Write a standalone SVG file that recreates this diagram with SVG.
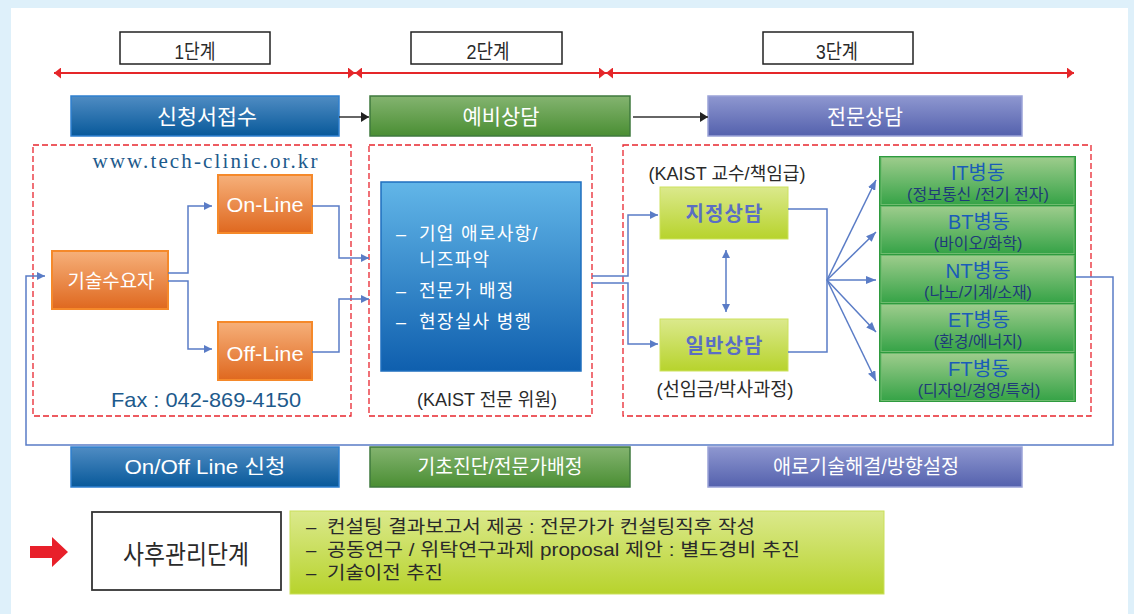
<svg xmlns="http://www.w3.org/2000/svg" width="1134" height="614" viewBox="0 0 1134 614">
<style>
.k{font-family:"Liberation Sans","Noto Sans CJK KR",sans-serif}
.w{fill:#ffffff}
.dk{fill:#2a2a2a}
.dash{fill:none;stroke:#e8262e;stroke-width:1.3;stroke-dasharray:6,3}
.con{fill:none;stroke:#5a7cc6;stroke-width:1.5}
.red{fill:none;stroke:#e52629;stroke-width:2}
.blk{fill:none;stroke:#333333;stroke-width:1.5}
.ttl{fill:#1a5cb8;font-size:20px}
.sub{fill:#1e3b78;font-size:16px}
</style>
<defs>
<linearGradient id="gBlue" x1="0" y1="0" x2="0" y2="1"><stop offset="0" stop-color="#4f8cc3"/><stop offset="1" stop-color="#08599a"/></linearGradient>
<linearGradient id="gGreen" x1="0" y1="0" x2="0" y2="1"><stop offset="0" stop-color="#84b470"/><stop offset="1" stop-color="#4a8e33"/></linearGradient>
<linearGradient id="gPurple" x1="0" y1="0" x2="0" y2="1"><stop offset="0" stop-color="#8e97d0"/><stop offset="1" stop-color="#5461ad"/></linearGradient>
<linearGradient id="gSky" x1="0" y1="0" x2="0" y2="1"><stop offset="0" stop-color="#62b6e8"/><stop offset="1" stop-color="#0f5fae"/></linearGradient>
<linearGradient id="gOrange" x1="0" y1="0" x2="0" y2="1"><stop offset="0" stop-color="#f6b07a"/><stop offset="1" stop-color="#df681f"/></linearGradient>
<linearGradient id="gLime" x1="0" y1="0" x2="0" y2="1"><stop offset="0" stop-color="#dbe98c"/><stop offset="1" stop-color="#b7d32c"/></linearGradient>
<linearGradient id="gCell" x1="0" y1="0" x2="0" y2="1"><stop offset="0" stop-color="#9dcc8c"/><stop offset="1" stop-color="#36a347"/></linearGradient>
<marker id="aBlue" viewBox="0 0 8 8" refX="8" refY="4" markerWidth="8" markerHeight="8" markerUnits="userSpaceOnUse" orient="auto-start-reverse"><path d="M0,0 L8,4 L0,8 Z" fill="#5a7cc6"/></marker>
<marker id="aFan" viewBox="0 0 10 8" refX="10" refY="4" markerWidth="10" markerHeight="8" markerUnits="userSpaceOnUse" orient="auto"><path d="M0,0 L10,4 L0,8 Z" fill="#5a7cc6"/></marker>
<marker id="aBlack" viewBox="0 0 8 10" refX="8" refY="5" markerWidth="8" markerHeight="10" markerUnits="userSpaceOnUse" orient="auto"><path d="M0,0 L8,5 L0,10 Z" fill="#222222"/></marker>
<marker id="aRed" viewBox="0 0 7 11" refX="7" refY="5.5" markerWidth="7" markerHeight="11" markerUnits="userSpaceOnUse" orient="auto-start-reverse"><path d="M0,0 L7,5.5 L0,11 Z" fill="#e52629"/></marker>
</defs>

<rect x="0" y="0" width="1134" height="614" fill="#def0fa"/>
<rect x="11" y="8" width="1117" height="606" fill="#ffffff"/>

<g id="stage1"><rect x="120" y="32" width="150" height="32" fill="#fff" stroke="#222" stroke-width="1.5"/><text class="k dk" x="195" y="59" font-size="20" text-anchor="middle" textLength="41" lengthAdjust="spacingAndGlyphs">1단계</text></g>
<g id="stage2"><rect x="411" y="32" width="151" height="32" fill="#fff" stroke="#222" stroke-width="1.5"/><text class="k dk" x="488" y="59" font-size="20" text-anchor="middle" textLength="43" lengthAdjust="spacingAndGlyphs">2단계</text></g>
<g id="stage3"><rect x="763" y="32" width="150" height="32" fill="#fff" stroke="#222" stroke-width="1.5"/><text class="k dk" x="837" y="59" font-size="20" text-anchor="middle" textLength="42" lengthAdjust="spacingAndGlyphs">3단계</text></g>

<g id="h1"><rect x="71" y="96" width="268" height="40" fill="url(#gBlue)" stroke="#2f80d0" stroke-width="1.5"/><text class="k w" x="207" y="124" font-size="21" text-anchor="middle" textLength="100" lengthAdjust="spacingAndGlyphs">신청서접수</text></g>
<g id="h2"><rect x="370" y="96" width="260" height="40" fill="url(#gGreen)" stroke="#3f7a3e" stroke-width="1.5"/><text class="k w" x="501" y="124" font-size="21" text-anchor="middle" textLength="77" lengthAdjust="spacingAndGlyphs">예비상담</text></g>
<g id="h3"><rect x="708" y="96" width="314" height="40" fill="url(#gPurple)" stroke="#9ba3d8" stroke-width="1.5"/><text class="k w" x="865" y="124" font-size="21" text-anchor="middle" textLength="76" lengthAdjust="spacingAndGlyphs">전문상담</text></g>

<g id="b1"><rect x="71" y="447" width="268" height="40" fill="url(#gBlue)" stroke="#2f80d0" stroke-width="1.5"/><text class="k w" x="205" y="474" font-size="20" text-anchor="middle" textLength="161" lengthAdjust="spacingAndGlyphs">On/Off Line 신청</text></g>
<g id="b2"><rect x="370" y="447" width="260" height="40" fill="url(#gGreen)" stroke="#3f7a3e" stroke-width="1.5"/><text class="k w" x="500" y="474" font-size="20" text-anchor="middle" textLength="165" lengthAdjust="spacingAndGlyphs">기초진단/전문가배정</text></g>
<g id="b3"><rect x="708" y="447" width="314" height="40" fill="url(#gPurple)" stroke="#9ba3d8" stroke-width="1.5"/><text class="k w" x="866" y="474" font-size="20" text-anchor="middle" textLength="186" lengthAdjust="spacingAndGlyphs">애로기술해결/방향설정</text></g>

<g id="area1"><rect class="dash" x="33" y="145" width="318" height="271"/>
<text x="205" y="168" font-family="'Liberation Serif','DejaVu Serif',serif" font-size="21" fill="#1d5a8c" text-anchor="middle" textLength="225" lengthAdjust="spacing">www.tech-clinic.or.kr</text>
<text class="k" x="206" y="407" font-size="21" fill="#1d5a8c" text-anchor="middle" textLength="190" lengthAdjust="spacingAndGlyphs">Fax : 042-869-4150</text></g>
<g id="demand"><rect x="52" y="251" width="116" height="58" fill="url(#gOrange)" stroke="#f5892a" stroke-width="2"/><text class="k w" x="111" y="288" font-size="19" text-anchor="middle" textLength="87" lengthAdjust="spacingAndGlyphs">기술수요자</text></g>
<g id="online"><rect x="218" y="175" width="94" height="58" fill="url(#gOrange)" stroke="#f5892a" stroke-width="2"/><text class="k w" x="265" y="212" font-size="20" text-anchor="middle" textLength="77" lengthAdjust="spacingAndGlyphs">On-Line</text></g>
<g id="offline"><rect x="218" y="322" width="94" height="58" fill="url(#gOrange)" stroke="#f5892a" stroke-width="2"/><text class="k w" x="265" y="361" font-size="20" text-anchor="middle" textLength="77" lengthAdjust="spacingAndGlyphs">Off-Line</text></g>

<g id="area2"><rect class="dash" x="369" y="145" width="223" height="271"/>
<text class="k dk" x="487" y="406" font-size="18" text-anchor="middle" textLength="140" lengthAdjust="spacingAndGlyphs">(KAIST 전문 위원)</text></g>
<g id="prelim"><rect x="381" y="182" width="200" height="189" fill="url(#gSky)" stroke="#1f6fbf" stroke-width="1.5"/>
<text class="k w" font-size="18" letter-spacing="1.3"><tspan x="396" y="240">–</tspan><tspan x="419" y="240">기업 애로사항/</tspan><tspan x="419" y="266">니즈파악</tspan><tspan x="396" y="297">–</tspan><tspan x="419" y="297">전문가 배정</tspan><tspan x="396" y="328">–</tspan><tspan x="419" y="328">현장실사 병행</tspan></text></g>

<g id="area3"><rect class="dash" x="623" y="145" width="468" height="271"/>
<text class="k dk" x="727" y="180" font-size="18" text-anchor="middle" textLength="157" lengthAdjust="spacingAndGlyphs">(KAIST 교수/책임급)</text>
<text class="k dk" x="725" y="396" font-size="19" text-anchor="middle" textLength="137" lengthAdjust="spacingAndGlyphs">(선임금/박사과정)</text></g>
<g id="designated"><rect x="660" y="187" width="128" height="52" fill="url(#gLime)" stroke="#cde25e" stroke-width="1"/><text class="k" x="724" y="221" font-size="20" font-weight="bold" fill="#5a6ec4" text-anchor="middle" textLength="77" lengthAdjust="spacing">지정상담</text></g>
<g id="general"><rect x="660" y="319" width="128" height="52" fill="url(#gLime)" stroke="#cde25e" stroke-width="1"/><text class="k" x="724" y="353" font-size="20" font-weight="bold" fill="#5a6ec4" text-anchor="middle" textLength="77" lengthAdjust="spacing">일반상담</text></g>

<g id="wards"><rect x="879" y="156" width="197" height="246" fill="#2e9b3e"/></g>
<g id="IT"><rect x="881" y="157.5" width="193" height="47" fill="url(#gCell)" stroke="#6fbb6f" stroke-width="1"/><text class="k ttl" x="978" y="180" text-anchor="middle" textLength="54" lengthAdjust="spacingAndGlyphs">IT병동</text><text class="k sub" x="978" y="200" text-anchor="middle">(정보통신 /전기 전자)</text></g>
<g id="BT"><rect x="881" y="206.5" width="193" height="47" fill="url(#gCell)" stroke="#6fbb6f" stroke-width="1"/><text class="k ttl" x="979" y="229" text-anchor="middle" textLength="62" lengthAdjust="spacingAndGlyphs">BT병동</text><text class="k sub" x="978" y="249" text-anchor="middle">(바이오/화학)</text></g>
<g id="NT"><rect x="881" y="255.5" width="193" height="47" fill="url(#gCell)" stroke="#6fbb6f" stroke-width="1"/><text class="k ttl" x="978" y="278" text-anchor="middle" textLength="65" lengthAdjust="spacingAndGlyphs">NT병동</text><text class="k sub" x="978" y="298" text-anchor="middle">(나노/기계/소재)</text></g>
<g id="ET"><rect x="881" y="304.5" width="193" height="47" fill="url(#gCell)" stroke="#6fbb6f" stroke-width="1"/><text class="k ttl" x="979" y="327" text-anchor="middle" textLength="62" lengthAdjust="spacingAndGlyphs">ET병동</text><text class="k sub" x="978" y="347" text-anchor="middle">(환경/에너지)</text></g>
<g id="FT"><rect x="881" y="353.5" width="193" height="47" fill="url(#gCell)" stroke="#6fbb6f" stroke-width="1"/><text class="k ttl" x="979" y="376" text-anchor="middle" textLength="62" lengthAdjust="spacingAndGlyphs">FT병동</text><text class="k sub" x="979" y="396" text-anchor="middle">(디자인/경영/특허)</text></g>

<g id="connectors">
<path class="red" d="M54,73 H355" marker-start="url(#aRed)" marker-end="url(#aRed)"/>
<path class="red" d="M355,73 H606" marker-start="url(#aRed)" marker-end="url(#aRed)"/>
<path class="red" d="M606,73 H1074" marker-start="url(#aRed)" marker-end="url(#aRed)"/>
<path class="blk" d="M339,117 H369" marker-end="url(#aBlack)"/>
<path class="blk" d="M633,117 H708" marker-end="url(#aBlack)"/>
<path class="con" d="M168,273 H188 V206 H212" marker-end="url(#aBlue)"/>
<path class="con" d="M168,281 H188 V349 H212" marker-end="url(#aBlue)"/>
<path class="con" d="M312,206 H339 V258 H369" marker-end="url(#aBlue)"/>
<path class="con" d="M312,352 H339 V299 H369" marker-end="url(#aBlue)"/>
<path class="con" d="M592,276 H628 V215 H658" marker-end="url(#aBlue)"/>
<path class="con" d="M592,283 H628 V344 H658" marker-end="url(#aBlue)"/>
<path class="con" d="M726,250 V312" marker-start="url(#aBlue)" marker-end="url(#aBlue)"/>
<path class="con" d="M788,209 H827 V352 H788"/>
<path class="con" d="M827,280 L876,180" marker-end="url(#aFan)"/>
<path class="con" d="M827,280 L876,232" marker-end="url(#aFan)"/>
<path class="con" d="M827,280 L876,280" marker-end="url(#aFan)"/>
<path class="con" d="M827,280 L876,332" marker-end="url(#aFan)"/>
<path class="con" d="M827,280 L876,381" marker-end="url(#aFan)"/>
<path class="con" d="M1076,277 H1113 V445 H26 V276 H45" marker-end="url(#aBlue)"/>
</g>

<g id="after">
<path d="M30,546 H52 V537 L68,552 L52,567 V558 H30 Z" fill="#e8202a"/>
<rect x="92" y="512" width="189" height="78" fill="#fff" stroke="#333" stroke-width="1.8"/>
<text class="k dk" x="186" y="564" font-size="26" text-anchor="middle" textLength="126" lengthAdjust="spacingAndGlyphs">사후관리단계</text>
</g>
<g id="afterDetail"><rect x="290" y="511" width="594" height="83" fill="url(#gLime)" stroke="#cadf5a" stroke-width="1"/>
<text class="k dk" font-size="18.5"><tspan x="306" y="533">–</tspan><tspan x="327" y="533" textLength="428" lengthAdjust="spacingAndGlyphs">컨설팅 결과보고서 제공 : 전문가가 컨설팅직후 작성</tspan></text>
<text class="k dk" font-size="18.5"><tspan x="306" y="556">–</tspan><tspan x="327" y="556" textLength="473" lengthAdjust="spacingAndGlyphs">공동연구 / 위탁연구과제 proposal 제안 : 별도경비 추진</tspan></text>
<text class="k dk" font-size="18.5"><tspan x="306" y="579">–</tspan><tspan x="327" y="579" textLength="116" lengthAdjust="spacingAndGlyphs">기술이전 추진</tspan></text>
</g>
</svg>
